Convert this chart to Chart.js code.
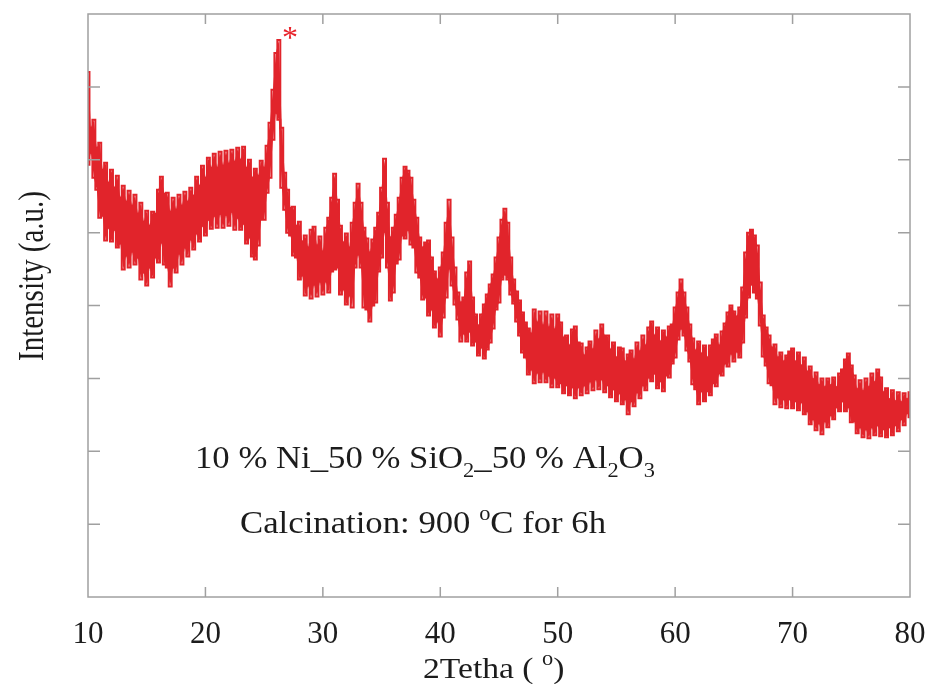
<!DOCTYPE html>
<html>
<head>
<meta charset="utf-8">
<script src="https://cdn.jsdelivr.net/npm/chart.js@4.4.1/dist/chart.umd.min.js"></script>
<style>
  html, body { margin: 0; padding: 0; background: #fff; }
  canvas { display: block; }
</style>
</head>
<body>
<canvas id="xrdChart" width="928" height="684"></canvas>
<script>
// XRD pattern, 2theta from 10 to 80 deg, read every 0.25 deg.
// The noisy trace is kept as its upper and lower edge.
const angleStart = 10;
const angleStep = 0.25;
const upperEdge = [
    526, 470, 478, 450,  455, 428, 435, 415,  428, 410, 422, 400,  412, 396, 407, 392,
    403, 384, 395, 376,  387, 372, 386, 384,  408, 421, 404, 405,  386, 400, 388, 403,
    392, 406, 396, 410,  402, 421, 412, 432,  420, 440, 430, 444,  430, 446, 432, 447,
    434, 448, 436, 450,  438, 451, 430, 438,  420, 429, 422, 437,  430, 452, 475, 508,
    545, 558, 470, 425,  408, 390, 391, 372,  376, 356, 362, 350,  368, 371, 352, 361,
    346, 370, 380, 400,  424, 398, 372, 355,  364, 350, 375, 395,  414, 395, 370, 359,
    345, 358, 370, 385,  410, 439, 395, 360,  370, 383, 400, 420,  431, 427, 420, 398,
    380, 360, 350, 355,  357, 340, 326, 318,  330, 345, 375, 398,  360, 330, 305, 295,
    300, 325, 336, 300,  283, 272, 283, 293,  303, 313, 323, 340,  360, 378, 389, 375,
    340, 318, 306, 297,  285, 275, 269, 264,  288, 275, 286, 272,  286, 270, 283, 268,
    283, 275, 260, 262,  252, 268, 271, 255,  254, 242, 250, 256,  248, 267, 258, 273,
    262, 262, 248, 255,  240, 250, 249, 236,  243, 247, 238, 255,  246, 262, 252, 270,
    276, 262, 270, 256,  267, 260, 271, 273,  290, 305, 318, 305,  290, 273, 259, 247,
    256, 244, 252, 240,  252, 258, 263, 252,  266, 274, 285, 292,  286, 281, 290, 310,
    345, 365, 368, 362,  352, 315, 282, 270,  262, 250, 253, 240,  245, 236, 242, 246,
    249, 236, 245, 232,  240, 226, 231, 218,  225, 212, 219, 210,  219, 212, 220, 210,
    224, 228, 238, 244,  232, 222, 208, 217,  206, 219, 210, 224,  215, 228, 220, 205,
    209, 198, 207, 196,  205, 195, 204, 198,  205
];
const lowerEdge = [
    433, 445, 420, 408,  380, 382, 357, 370,  356, 368, 350, 354,  328, 342, 330, 346,
    333, 340, 318, 325,  312, 330, 320, 340,  335, 355, 333, 330,  311, 330, 325, 344,
    333, 350, 341, 358,  348, 364, 356, 372,  362, 378, 369, 382,  370, 384, 370, 383,
    372, 386, 368, 380,  368, 374, 354, 360,  341, 338, 352, 378,  378, 405, 420, 458,
    485, 478, 410, 388,  365, 362, 342, 340,  318, 322, 302, 312,  299, 313, 301, 316,
    303, 316, 305, 326,  328, 330, 303, 308,  293, 302, 290, 330,  343, 330, 290, 288,
    276, 292, 295, 326,  340, 366, 330, 297,  305, 334, 338, 362,  359, 368, 353, 350,
    325, 320, 298, 300,  282, 288, 270, 276,  261, 280, 300, 329,  312, 293, 278, 256,
    264, 256, 266, 252,  256, 242, 250, 239,  248, 255, 269, 288,  295, 318, 323, 318,
    303, 294, 276, 262,  245, 240, 223, 228,  214, 225, 215, 226,  215, 222, 210, 220,
    210, 214, 204, 212,  202, 210, 199, 210,  202, 212, 204, 216,  207, 218, 208, 218,
    205, 212, 200, 208,  196, 204, 193, 198,  183, 196, 191, 205,  199, 212, 207, 220,
    216, 224, 209, 216,  206, 222, 220, 234,  240, 258, 269, 262,  247, 236, 213, 208,
    193, 206, 196, 206,  202, 214, 211, 224,  222, 234, 231, 244,  236, 246, 240, 255,
    280, 300, 313, 305,  299, 272, 241, 232,  214, 212, 193, 200,  190, 198, 189, 198,
    189, 196, 187, 195,  183, 186, 173, 178,  167, 174, 163, 176,  170, 182, 178, 190,
    186, 196, 186, 190,  175, 176, 164, 170,  160, 168, 159, 170,  162, 172, 161, 168,
    160, 170, 162, 172,  166, 178, 172, 184,  180
];
const xTickValues = [10, 20, 30, 40, 50, 60, 70, 80];
const yTickValues = [73, 146, 219, 292, 365, 438, 511];
const yMax = 584;

const serif = '"Liberation Serif", "Times New Roman", serif';
const traceColor = "#e1242b";
const frameColor = "#a0a0a0";

// text with sub/superscripts, stretched a bit sideways like the source figure
function drawRuns(ctx, runs, x, y, stretch) {
    ctx.save();
    ctx.translate(x, y);
    ctx.scale(stretch, 1);
    ctx.textBaseline = "alphabetic";
    let cx = 0;
    runs.forEach(r => {
        ctx.font = r.size + "px " + serif;
        ctx.fillText(r.text, cx, r.dy || 0);
        cx += ctx.measureText(r.text).width;
    });
    ctx.restore();
}

const overlay = {
    id: "overlay",
    afterDraw(chart) {
        const { ctx, chartArea: a, scales } = chart;
        ctx.save();
        // frame + inward ticks
        ctx.strokeStyle = frameColor;
        ctx.lineWidth = 1.5;
        ctx.strokeRect(a.left, a.top, a.right - a.left, a.bottom - a.top);
        ctx.beginPath();
        xTickValues.forEach(v => {
            const px = scales.x.getPixelForValue(v);
            if (px <= a.left + 1 || px >= a.right - 1) return;
            ctx.moveTo(px, a.bottom); ctx.lineTo(px, a.bottom - 10);
            ctx.moveTo(px, a.top); ctx.lineTo(px, a.top + 10);
        });
        yTickValues.forEach(v => {
            const py = scales.y.getPixelForValue(v);
            ctx.moveTo(a.left, py); ctx.lineTo(a.left + 12, py);
            ctx.moveTo(a.right, py); ctx.lineTo(a.right - 12, py);
        });
        ctx.stroke();

        ctx.fillStyle = "#1c1c1c";
        // annotation
        drawRuns(ctx, [
            { text: "10 % Ni_50 % SiO", size: 31 },
            { text: "2", size: 20, dy: 9 },
            { text: "_50 % Al", size: 31 },
            { text: "2", size: 20, dy: 9 },
            { text: "O", size: 31 },
            { text: "3", size: 20, dy: 9 }
        ], 195, 468, 1.12);
        drawRuns(ctx, [
            { text: "Calcination: 900 ", size: 31 },
            { text: "o", size: 20, dy: -13 },
            { text: "C for 6h", size: 31 }
        ], 240, 533, 1.12);
        // x title
        drawRuns(ctx, [
            { text: "2Tetha ( ", size: 30 },
            { text: "o", size: 20, dy: -13 },
            { text: ")", size: 30 }
        ], 423, 678, 1.12);
        // y title
        ctx.save();
        ctx.translate(43, 276);
        ctx.scale(1.2, 1);
        ctx.rotate(-Math.PI / 2);
        ctx.textAlign = "center";
        ctx.textBaseline = "alphabetic";
        ctx.font = "29px " + serif;
        ctx.fillText("Intensity (a.u.)", 0, 0);
        ctx.restore();
        // peak marker
        ctx.fillStyle = "#e8222a";
        ctx.font = "32px " + serif;
        ctx.textAlign = "center";
        ctx.fillText("*", 290, 48);
        ctx.restore();
    }
};

const toPoints = arr => arr.map((v, i) => ({ x: angleStart + i * angleStep, y: v }));

// solid band between the edges, then stepped edges on top for the noisy look
const bandStyle = { borderWidth: 0, pointRadius: 0, tension: 0 };
const edgeStyle = { borderColor: traceColor, borderWidth: 2, pointRadius: 0, stepped: "middle", fill: false };

new Chart(document.getElementById("xrdChart").getContext("2d"), {
    type: "line",
    data: {
        datasets: [
            { ...bandStyle, data: toPoints(lowerEdge), fill: false },
            { ...bandStyle, data: toPoints(upperEdge), backgroundColor: traceColor, fill: "-1" },
            { ...edgeStyle, data: toPoints(lowerEdge) },
            { ...edgeStyle, data: toPoints(upperEdge) }
        ]
    },
    options: {
        responsive: false,
        devicePixelRatio: 1,
        animation: false,
        layout: { padding: { left: 88, right: 18, top: 14, bottom: 0 } },
        plugins: { legend: { display: false }, tooltip: { enabled: false } },
        scales: {
            x: {
                type: "linear",
                min: 10,
                max: 80,
                afterBuildTicks: s => { s.ticks = xTickValues.map(v => ({ value: v })); },
                afterFit: s => { s.height = 87; s.paddingLeft = 0; s.paddingRight = 0; },
                grid: { display: false, drawTicks: false },
                border: { display: false },
                ticks: { font: { family: serif, size: 31 }, color: "#1c1c1c", padding: 19, maxRotation: 0 }
            },
            y: {
                display: false,
                min: 0,
                max: yMax
            }
        }
    },
    plugins: [overlay]
});
</script>
</body>
</html>
